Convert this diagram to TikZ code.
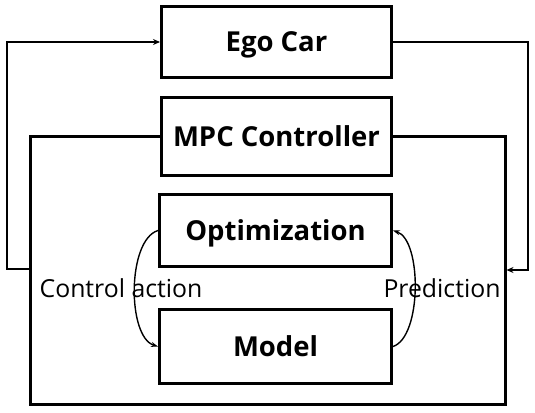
\documentclass[tikz,border=0pt]{standalone}
\usepackage{fontspec}
\setmainfont{Open Sans}
\usetikzlibrary{arrows.meta}
\begin{document}
\begin{tikzpicture}[x=1pt,y=-1pt,
  blk/.style={draw=black,line width=3pt,minimum width=230pt,inner sep=0pt,
    text height=19.8pt,text depth=0pt,
    font=\fontsize{27.5}{32}\selectfont\bfseries},
  loopline/.style={line width=3pt,line join=miter},
  fbline/.style={line width=1.8pt,-{Stealth[length=7pt,width=6pt]}},
  curv/.style={line width=1.4pt,-{Stealth[length=7pt,width=5pt]}},
  lbl/.style={font=\fontsize{24.8}{29}\selectfont,inner sep=0pt,
    text height=17.9pt,text depth=0pt}]
\useasboundingbox (0,0) rectangle (535,412);
\node[blk,minimum height=71pt] (ego) at (276.5,42) {Ego Car};
\node[blk,minimum height=78pt] (mpc) at (276.5,136.5) {MPC Controller};
\node[blk,minimum width=232pt,minimum height=72pt] (opt) at (275.5,230.5) {Optimization};
\node[blk,minimum width=232pt,minimum height=74pt] (mod) at (275.5,346.5) {Model};
% outer controller loop
\coordinate (bl) at (30,404);
\coordinate (br) at (505,404);
\draw[loopline] (mpc.west) -| (bl) -- (br) |- (mpc.east);
% feedback loop
\coordinate (r1) at (528,270);
\coordinate (fr) at (506.5,270);
\coordinate (fl) at (28.5,269);
\coordinate (l1) at (7,269);
\draw[fbline] (ego.east) -| (r1) -- (fr);
\draw[fbline] (fl) -- (l1) |- (ego.west);
% labels
\node[lbl] (ca) at (121,289) {Control action};
\node[lbl] (pr) at (442,289) {Prediction};
% curved arrows
\draw[curv] (opt.west) .. controls (127,240) and (127,337) .. (mod.west);
\draw[curv] (mod.east) .. controls (422,337) and (422,240) .. (opt.east);
\end{tikzpicture}
\end{document}
